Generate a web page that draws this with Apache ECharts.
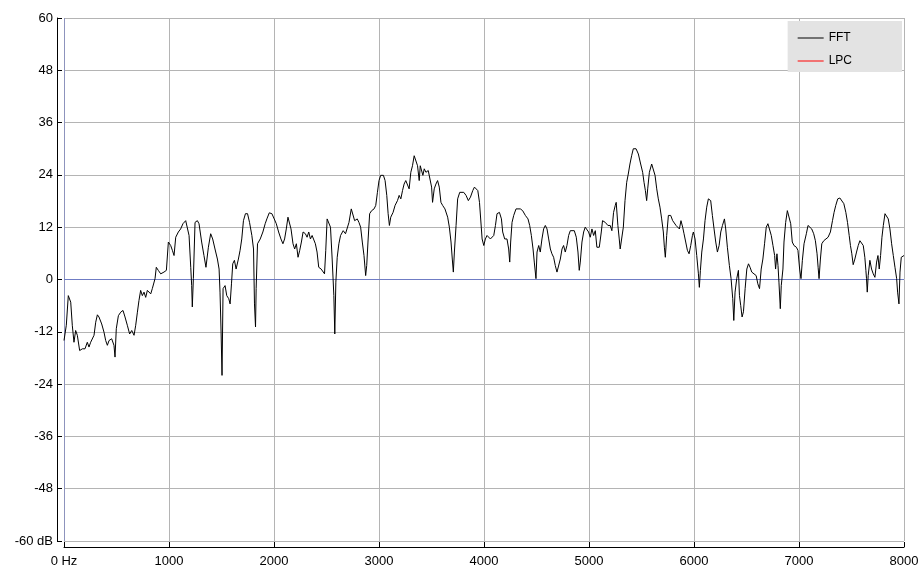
<!DOCTYPE html>
<html>
<head>
<meta charset="utf-8">
<script src="https://cdn.jsdelivr.net/npm/echarts@6/dist/echarts.min.js"></script>
<style>
  html, body { margin: 0; padding: 0; background: #fff; }
  #spectrum { width: 922px; height: 570px; }
</style>
</head>
<body>
<div id="spectrum"></div>
<script>
// FFT spectrum, [Hz, dB] pairs, split by band
let band1 = [[0,-14],[22,-10.5],[41,-3.7],[64,-5.2],[79,-10.5],[95,-14.4],[111,-11.7],[127,-12.8],[149,-16.3],[175,-15.9],[200,-15.9],[222,-14.4],[238,-15.5],[254,-14.4],[270,-14],[286,-12.8],[302,-9.8],[318,-8.1],[333,-8.6],[359,-10.2],[381,-12.1],[397,-14],[413,-15.1],[429,-14],[454,-13.6],[476,-15.1],[486,-17.8],[498,-11.3],[518,-8.3],[540,-7.5],[562,-7.1],[581,-8.6],[603,-10.5],[625,-12.5],[645,-11.7],[667,-12.8],[683,-10.5],[699,-7.5],[714,-4.8],[730,-2.5],[746,-3.7],[762,-2.9],[778,-4.1],[794,-2.5],[810,-2.1],[826,-3.3],[841,-2.1],[857,-1.8],[867,0.2],[879,2.8],[898,2.1],[921,1.3],[952,1.7],[975,2.1],[994,8.6],[1016,7.8],[1032,6.7],[1048,5.5],[1064,9.7],[1089,10.9],[1111,11.6],[1133,12.8],[1159,13.5],[1175,13.9],[1191,10.1],[1207,2.8],[1216,-1.4],[1222,-6.3],[1232,0.2],[1248,13.1],[1270,13.5],[1286,12.8]];
let band2 = [[1295,12.4],[1311,8.6],[1333,5.5],[1352,2.8],[1375,7.4],[1397,10.5],[1416,9.3],[1438,7],[1461,4.7],[1477,2.4],[1486,-2.9],[1496,-12.1],[1505,-22],[1515,-2.1],[1534,-1.4],[1550,-3.7],[1569,-4.4],[1582,-5.6],[1595,-1],[1607,3.6],[1623,4.4],[1639,2.4],[1661,4.7],[1677,6.7],[1693,9.3],[1709,13.5],[1728,15.1],[1748,15.1],[1767,13.1],[1789,10.1],[1805,7],[1814,-5.6],[1824,-10.9],[1830,-2.1],[1843,8.2],[1869,9.3],[1894,10.9],[1916,12.8],[1932,13.9],[1955,15.3],[1980,15.1],[2002,13.9],[2022,12.8],[2044,10.9],[2066,9.3],[2085,8.2],[2101,9.3],[2117,11.6],[2133,14.3],[2149,14.7],[2162,11.6],[2181,8.2],[2197,7],[2213,8.2],[2229,5.1],[2245,6.7],[2261,8.6],[2277,10.9],[2299,10.5],[2315,9.7],[2331,10.9],[2347,9.3],[2363,10.1],[2379,9.7],[2394,8.2],[2410,6.3],[2426,2.8],[2449,2.4],[2468,2.8],[2481,1.3],[2493,6.7],[2506,13.9],[2525,14.3],[2538,12],[2554,4.7],[2570,-3.7],[2579,-12.5],[2589,-0.6],[2602,5.1],[2618,8.2],[2634,10.1],[2659,11.2],[2681,10.5]];
let band3 = [[2698,10.5],[2714,13.1],[2736,16.2],[2752,15.8],[2768,13.5],[2793,13.9],[2809,13.1],[2825,12],[2841,8.6],[2857,5.5],[2873,0.9],[2883,3.2],[2895,8.6],[2911,15.1],[2930,15.8],[2953,16.2],[2969,17],[2985,20],[3000,22.7],[3016,23.9],[3042,23.9],[3058,22.7],[3074,19.3],[3087,15.1],[3099,12.4],[3112,14.3],[3134,15.4],[3153,17],[3176,18.1],[3192,19.3],[3208,18.5],[3224,20.4],[3239,21.9],[3255,22.7],[3271,22.3],[3287,20.8],[3303,24.6],[3319,26.1],[3335,28.4],[3351,28.1],[3367,26.1],[3383,22.7],[3393,26.1],[3405,26.5],[3418,23.9],[3431,25.4],[3447,24.6],[3469,25],[3488,24.6],[3501,21.2],[3510,17.7],[3526,20.8],[3542,21.9],[3558,22.7],[3574,21.2],[3590,17.7],[3606,17],[3628,16.2],[3654,14.3],[3670,12],[3686,8.6],[3698,4.7],[3708,1.7],[3718,6.3],[3734,12.4],[3749,18.5],[3769,20],[3788,20.4],[3807,20],[3829,19.3],[3851,18.1],[3871,18.9],[3893,20.4],[3909,21.2],[3928,21.6],[3941,20.4],[3957,17.7]];
let band4 = [[3982,9.3],[3998,7.8],[4013,9.3],[4029,10.1],[4045,9.7],[4061,9.3],[4077,8.9],[4093,10.1],[4109,12.4],[4124,15.1],[4147,15.4],[4166,13.9],[4178,10.9],[4197,9.3],[4219,9.3],[4235,7],[4245,4],[4254,8.6],[4267,13.1],[4283,14.7],[4305,16.2],[4324,16.6],[4346,16.2],[4368,15.8],[4394,14.7],[4419,13.9],[4435,12.4],[4451,10.1],[4467,7],[4479,4],[4495,0.2],[4505,6.3],[4521,7.8],[4536,6.3],[4552,9.3],[4568,11.6],[4584,12.4],[4600,11.6],[4616,9.3],[4632,7],[4647,5.9],[4663,5.1],[4679,3.2],[4695,1.7],[4711,1.7],[4727,4.7],[4743,7],[4758,7.8],[4774,6.3],[4790,7.8],[4806,10.1],[4822,11.2],[4838,11.6],[4860,11.2],[4879,9.7],[4895,6.3],[4907,2.1],[4917,4],[4933,8.6],[4949,10.9],[4964,12],[4980,12.4],[4996,10.9],[5012,9.7],[5028,11.6],[5044,10.1],[5060,11.2],[5075,7.4],[5098,7.4],[5117,10.9],[5129,13.5],[5155,13.1],[5180,12.4],[5202,12.4],[5218,11.2],[5234,15.4],[5250,17],[5259,17.7],[5275,12.4],[5288,9.3],[5297,7]];
let band5 = [[5327,12],[5343,18.1],[5359,22.3],[5374,24.2],[5390,26.5],[5406,28.4],[5422,30],[5448,30],[5470,28.8],[5492,26.5],[5511,24.6],[5524,22.3],[5537,20.4],[5549,18.1],[5559,20.8],[5575,24.6],[5597,26.5],[5613,26.1],[5629,23.9],[5645,20.8],[5660,18.5],[5676,16.6],[5692,13.9],[5708,10.9],[5718,7.4],[5727,5.1],[5740,10.1],[5756,14.7],[5778,14.7],[5797,13.5],[5813,13.1],[5829,12.4],[5845,12.7],[5861,11.6],[5876,13.5],[5892,12],[5905,10.5],[5921,8.6],[5937,6.7],[5953,5.9],[5969,7.8],[5985,10.1],[5994,10.9],[6010,9.3],[6026,5.5],[6042,1.3],[6051,-1.8],[6061,2.1],[6074,6.3],[6090,9.3],[6105,13.5],[6121,16.6],[6137,18.5],[6159,18.1],[6175,14.7],[6191,11.6],[6207,8.6],[6223,6.3],[6239,7.8],[6255,10.9],[6271,12.4],[6290,13.9],[6302,11.6],[6318,7.4],[6337,3.2],[6353,0.2],[6369,-4.4],[6379,-9.4],[6391,-2.9],[6407,0.2],[6423,2.1],[6433,-3.7],[6445,-6],[6458,-8.6],[6471,-7.4],[6487,-2.1],[6503,2.4],[6519,3.6],[6534,2.8],[6550,1.7],[6566,1.3],[6592,0.9],[6608,-1],[6624,-2.1]];
let band6 = [[6640,2.4],[6656,4.7],[6672,8.2],[6688,12],[6704,12.8],[6720,12.8],[6736,10.1],[6752,7.8],[6768,5.5],[6777,2.4],[6790,5.9],[6800,3.2],[6809,-0.6],[6822,-6.7],[6831,-1.4],[6847,2.4],[6857,8.6],[6873,13.1],[6889,15.8],[6905,15.4],[6921,12.8],[6936,8.6],[6952,7.8],[6975,7.4],[6990,6.7],[7006,2.4],[7019,0.2],[7032,4.4],[7048,8.2],[7070,10.5],[7086,12.4],[7102,12],[7121,11.6],[7140,10.5],[7156,8.9],[7172,5.9],[7182,2.8],[7191,0.2],[7204,4.7],[7217,8.2],[7236,8.9],[7255,8.9],[7277,9.7],[7299,10.9],[7319,13.5],[7334,15.4],[7350,17],[7369,18.5],[7389,18.7],[7408,18.5],[7427,17.4],[7446,15.4],[7462,13.1],[7478,10.1],[7490,7.8],[7503,5.9],[7516,3.4],[7532,4.7],[7548,6.3],[7564,7.8],[7580,8.9],[7596,8.9],[7612,7.8],[7627,5.1],[7637,2.1],[7643,0.2],[7650,-2.9],[7659,0.9],[7675,4.4],[7691,2.4],[7707,1.3],[7723,0.5],[7739,4],[7752,5.5],[7764,2.4],[7777,5.5],[7790,9.7],[7803,12.4],[7819,15.1],[7834,15.4],[7850,13.9],[7866,11.6],[7882,8.2],[7898,5.5],[7914,2.8],[7930,0.2],[7939,-2.9],[7952,-5.6],[7962,1.7],[7974,5.1],[8000,5.5]];
let lpcPoints = []; // LPC curve is not drawn in the picture, only listed in the legend
let zeroDb = [[0, 0], [8000, 0]]; // 0 dB reference line

let fftPoints = band1.concat(band2, band3, band4, band5, band6);

let gridGrey = '#b4b4b4';
let zeroBlue = '#6f7cc4';
let textFont = { color: '#000', fontFamily: 'Liberation Sans, Arial', fontSize: 13 };

let spectrum = echarts.init(document.getElementById('spectrum'));

option = {
	animation: false,
	backgroundColor: '#fff',
	grid: { left: 64, right: 18, top: 18, bottom: 29 },
	legend: {
		orient: 'vertical',
		right: 20,
		top: 21,
		backgroundColor: '#e3e3e3',
		padding: [11, 50, 5, 10],
		icon: 'rect',
		itemWidth: 26,
		itemHeight: 1,
		itemGap: 11,
		textStyle: { color: '#000', fontFamily: 'Liberation Sans, Arial', fontSize: 12 },
		data: ['FFT', 'LPC']
	},
	xAxis: {
		type: 'value',
		min: 0,
		max: 8000,
		interval: 1000,
		offset: 6,
		axisLine: { onZero: false, lineStyle: { color: '#000', width: 1 } },
		axisTick: { inside: true, length: 5, lineStyle: { color: '#000' } },
		axisLabel: Object.assign({ margin: 8, formatter: function (v) { return v === 0 ? '0 Hz' : v; } }, textFont),
		splitLine: {
			show: true,
			lineStyle: { color: ['#8d93bd', gridGrey, gridGrey, gridGrey, gridGrey, gridGrey, gridGrey, gridGrey, gridGrey] }
		}
	},
	yAxis: {
		type: 'value',
		min: -60,
		max: 60,
		interval: 12,
		offset: 7,
		axisLine: { onZero: false, lineStyle: { color: '#000', width: 1 } },
		axisTick: { inside: true, length: 5, lineStyle: { color: '#000' } },
		axisLabel: Object.assign({ margin: 4, formatter: function (v) { return v === -60 ? '-60 dB' : v; } }, textFont),
		splitLine: { show: true, lineStyle: { color: gridGrey } }
	},
	series: [{
		name: 'zero',
		type: 'line',
		data: zeroDb,
		symbol: 'none',
		silent: true,
		z: 1,
		lineStyle: { color: zeroBlue, width: 1 }
	}, {
		name: 'FFT',
		type: 'line',
		data: fftPoints,
		symbol: 'none',
		z: 3,
		lineStyle: { color: '#000', width: 1 },
		itemStyle: { color: '#000' }
	}, {
		name: 'LPC',
		type: 'line',
		data: lpcPoints,
		symbol: 'none',
		lineStyle: { color: '#ff0000', width: 1 },
		itemStyle: { color: '#ff0000' }
	}]
};

spectrum.setOption(option, true);
</script>
</body>
</html>
